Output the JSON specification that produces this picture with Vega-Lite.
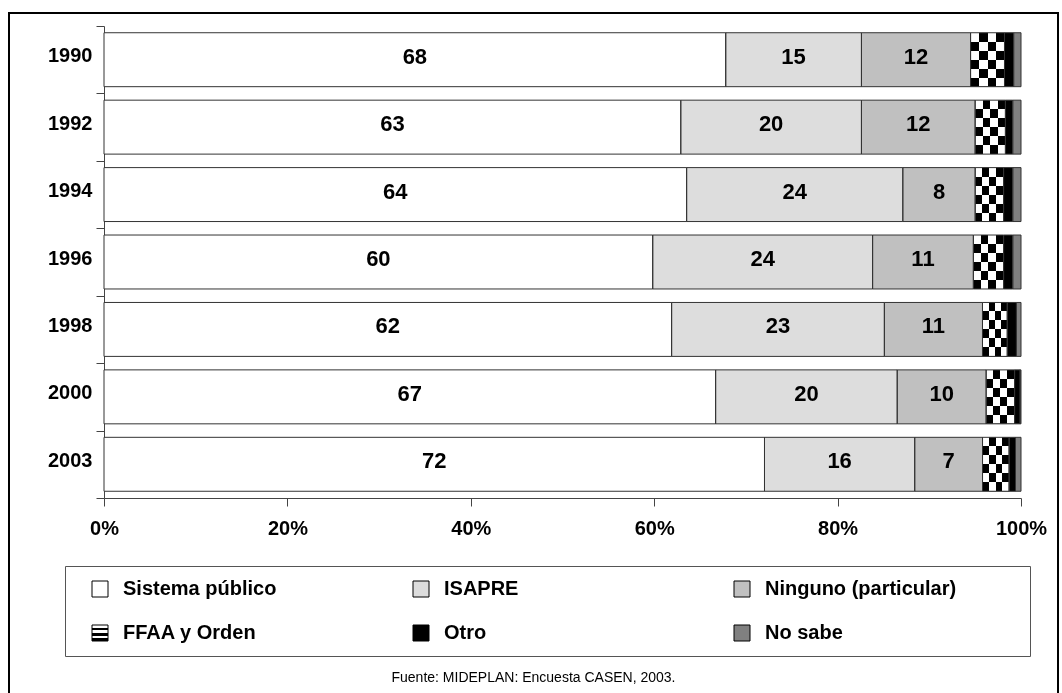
{
  "$schema": "https://vega.github.io/schema/vega-lite/v6.json",
  "width": 1049,
  "height": 690,
  "padding": {"left": 9, "top": 3, "right": 4, "bottom": 0},
  "autosize": {"type": "pad"},
  "background": "white",
  "title": {
    "text": "Fuente: MIDEPLAN: Encuesta CASEN, 2003.",
    "orient": "bottom",
    "anchor": "middle",
    "frame": "group",
    "offset": -32,
    "font": "Liberation Sans",
    "fontSize": 14,
    "fontWeight": "normal",
    "color": "black"
  },
  "config": {
    "view": {"stroke": "black", "strokeWidth": 2},
    "font": "Liberation Sans"
  },
  "data": {
    "values": [
      {"year": "1990", "cat": "Sistema público", "k": 1, "v": 67.8},
      {"year": "1990", "cat": "ISAPRE", "k": 2, "v": 14.8},
      {"year": "1990", "cat": "Ninguno (particular)", "k": 3, "v": 11.9},
      {"year": "1990", "cat": "FFAA y Orden", "k": 4, "v": 3.7},
      {"year": "1990", "cat": "Otro", "k": 5, "v": 1.0},
      {"year": "1990", "cat": "No sabe", "k": 6, "v": 0.8},
      {"year": "1992", "cat": "Sistema público", "k": 1, "v": 62.9},
      {"year": "1992", "cat": "ISAPRE", "k": 2, "v": 19.7},
      {"year": "1992", "cat": "Ninguno (particular)", "k": 3, "v": 12.4},
      {"year": "1992", "cat": "FFAA y Orden", "k": 4, "v": 3.3},
      {"year": "1992", "cat": "Otro", "k": 5, "v": 0.8},
      {"year": "1992", "cat": "No sabe", "k": 6, "v": 0.9},
      {"year": "1994", "cat": "Sistema público", "k": 1, "v": 63.6},
      {"year": "1994", "cat": "ISAPRE", "k": 2, "v": 23.6},
      {"year": "1994", "cat": "Ninguno (particular)", "k": 3, "v": 7.9},
      {"year": "1994", "cat": "FFAA y Orden", "k": 4, "v": 3.1},
      {"year": "1994", "cat": "Otro", "k": 5, "v": 1.0},
      {"year": "1994", "cat": "No sabe", "k": 6, "v": 0.9},
      {"year": "1996", "cat": "Sistema público", "k": 1, "v": 59.9},
      {"year": "1996", "cat": "ISAPRE", "k": 2, "v": 24.0},
      {"year": "1996", "cat": "Ninguno (particular)", "k": 3, "v": 11.0},
      {"year": "1996", "cat": "FFAA y Orden", "k": 4, "v": 3.3},
      {"year": "1996", "cat": "Otro", "k": 5, "v": 1.0},
      {"year": "1996", "cat": "No sabe", "k": 6, "v": 0.9},
      {"year": "1998", "cat": "Sistema público", "k": 1, "v": 61.9},
      {"year": "1998", "cat": "ISAPRE", "k": 2, "v": 23.2},
      {"year": "1998", "cat": "Ninguno (particular)", "k": 3, "v": 10.7},
      {"year": "1998", "cat": "FFAA y Orden", "k": 4, "v": 2.7},
      {"year": "1998", "cat": "Otro", "k": 5, "v": 1.0},
      {"year": "1998", "cat": "No sabe", "k": 6, "v": 0.5},
      {"year": "2000", "cat": "Sistema público", "k": 1, "v": 66.7},
      {"year": "2000", "cat": "ISAPRE", "k": 2, "v": 19.8},
      {"year": "2000", "cat": "Ninguno (particular)", "k": 3, "v": 9.7},
      {"year": "2000", "cat": "FFAA y Orden", "k": 4, "v": 3.1},
      {"year": "2000", "cat": "Otro", "k": 5, "v": 0.6},
      {"year": "2000", "cat": "No sabe", "k": 6, "v": 0.1},
      {"year": "2003", "cat": "Sistema público", "k": 1, "v": 72.1},
      {"year": "2003", "cat": "ISAPRE", "k": 2, "v": 16.4},
      {"year": "2003", "cat": "Ninguno (particular)", "k": 3, "v": 7.4},
      {"year": "2003", "cat": "FFAA y Orden", "k": 4, "v": 2.9},
      {"year": "2003", "cat": "Otro", "k": 5, "v": 0.7},
      {"year": "2003", "cat": "No sabe", "k": 6, "v": 0.6}
    ]
  },
  "encoding": {
    "y": {
      "field": "year",
      "type": "nominal",
      "sort": null,
      "scale": {"range": [13, 485], "paddingInner": 0, "paddingOuter": 0},
      "axis": {
        "title": null,
        "offset": -95,
        "tickBand": "extent",
        "tickSize": 8,
        "tickColor": "#444",
        "domainColor": "#444",
        "domainWidth": 1,
        "labelFont": "Liberation Sans",
        "labelFontSize": 20,
        "labelFontWeight": "bold",
        "labelColor": "black",
        "labelPadding": 4,
        "labelOffset": -4,
        "grid": false
      }
    },
    "x": {
      "field": "v",
      "type": "quantitative",
      "stack": "normalize",
      "scale": {"domain": [0, 1], "range": [95, 1012], "nice": false},
      "axis": {
        "title": null,
        "offset": -205,
        "values": [0, 0.2, 0.4, 0.6, 0.8, 1],
        "format": ".0%",
        "tickSize": 8,
        "tickColor": "#444",
        "domainColor": "#444",
        "domainWidth": 1,
        "labelPadding": 12,
        "labelFont": "Liberation Sans",
        "labelFontSize": 20,
        "labelFontWeight": "bold",
        "labelColor": "black",
        "labelFlush": false,
        "labelOverlap": false,
        "grid": false
      }
    },
    "order": {"field": "k", "type": "quantitative"}
  },
  "layer": [
    {
      "mark": {"type": "bar", "height": {"band": 0.8}},
      "encoding": {
        "color": {
          "field": "cat",
          "type": "nominal",
          "sort": null,
          "scale": {
            "domain": ["Sistema público", "ISAPRE", "Ninguno (particular)", "FFAA y Orden", "Otro", "No sabe"],
            "range": [
              "#ffffff",
              "#dddddd",
              "#c0c0c0",
              {"expr": "{gradient: 'linear', x1: 0, y1: 0, x2: 0, y2: 1, stops: [{offset: 0, color: 'white'}, {offset: 0.1667, color: 'white'}, {offset: 0.1667, color: 'black'}, {offset: 0.3333, color: 'black'}, {offset: 0.3333, color: 'white'}, {offset: 0.5, color: 'white'}, {offset: 0.5, color: 'black'}, {offset: 0.6667, color: 'black'}, {offset: 0.6667, color: 'white'}, {offset: 0.8333, color: 'white'}, {offset: 0.8333, color: 'black'}, {offset: 1, color: 'black'}]}"},
              "#000000",
              "#808080"
            ]
          },
          "legend": {
            "orient": "none",
            "legendX": 56,
            "legendY": 553,
            "direction": "horizontal",
            "columns": 3,
            "title": null,
            "symbolType": "square",
            "symbolSize": 256,
            "symbolStrokeColor": "black",
            "symbolStrokeWidth": 1,
            "symbolOffset": 12,
            "labelOffset": 13,
            "labelFont": "Liberation Sans",
            "labelFontSize": 20,
            "labelFontWeight": "bold",
            "labelColor": "black",
            "labelLimit": 500,
            "labelExpr": "datum.label === 'Ninguno (particular)' ? datum.label + '\u2800\u2800\u2800\u2800' : datum.label",
            "rowPadding": 24,
            "columnPadding": 24,
            "gridAlign": "all",
            "padding": 13,
            "strokeColor": "#555555"
          }
        }
      }
    },
    {
      "mark": {"type": "bar", "height": {"band": 0.8}, "blend": "difference"},
      "encoding": {
        "detail": {"field": "cat", "type": "nominal"},
        "fill": {
          "condition": {
            "test": "datum.cat === 'FFAA y Orden'",
            "value": {
              "gradient": "linear",
              "x1": 0, "y1": 0, "x2": 1, "y2": 0,
              "stops": [
                {"offset": 0, "color": "rgba(255,255,255,0)"},
                {"offset": 0.25, "color": "rgba(255,255,255,0)"},
                {"offset": 0.25, "color": "white"},
                {"offset": 0.5, "color": "white"},
                {"offset": 0.5, "color": "rgba(255,255,255,0)"},
                {"offset": 0.75, "color": "rgba(255,255,255,0)"},
                {"offset": 0.75, "color": "white"},
                {"offset": 1, "color": "white"}
              ]
            }
          },
          "value": "transparent"
        }
      }
    },
    {
      "mark": {"type": "bar", "height": {"band": 0.8}, "fill": "transparent", "stroke": "#333333", "strokeWidth": 1},
      "encoding": {
        "detail": {"field": "cat", "type": "nominal"}
      }
    },
    {
      "mark": {"type": "text", "font": "Liberation Sans", "fontSize": 22, "fontWeight": "bold", "color": "black", "dy": -3},
      "encoding": {
        "x": {"field": "v", "type": "quantitative", "stack": "normalize", "bandPosition": 0.5},
        "detail": {"field": "cat", "type": "nominal"},
        "text": {"field": "v", "type": "quantitative", "format": ".0f"},
        "opacity": {"condition": {"test": "datum.k <= 3", "value": 1}, "value": 0}
      }
    }
  ]
}
